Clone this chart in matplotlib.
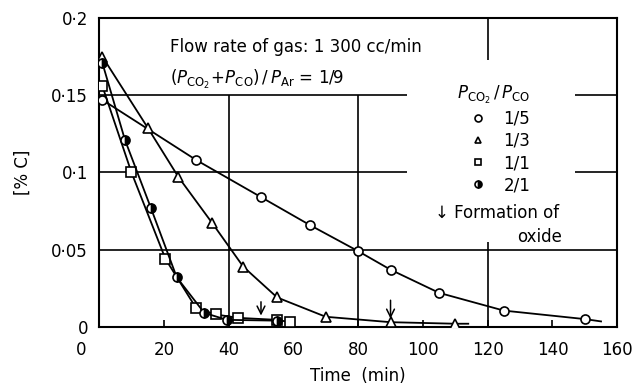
import numpy as np
import matplotlib.pyplot as plt
from matplotlib.lines import Line2D
from matplotlib.transforms import ScaledTranslation

# carbon content [% C] vs time (min)
t_15 = [1, 30, 50, 65, 80, 90, 105, 125, 150]
c_15 = [0.147, 0.108, 0.084, 0.066, 0.049, 0.037, 0.022, 0.0105, 0.005]
end_15 = (155, 0.0035)

t_13 = [1, 15, 24.5, 35, 44.5, 55, 70, 90, 110]
c_13 = [0.175, 0.129, 0.097, 0.067, 0.039, 0.019, 0.0065, 0.003, 0.002]
end_13 = (114, 0.002)

t_11 = [1, 10, 20.5, 30, 36, 43, 55, 59]
c_11 = [0.156, 0.100, 0.044, 0.012, 0.008, 0.0058, 0.0045, 0.003]

t_21 = [1, 8, 16, 24, 32.5, 39.5, 55]
c_21 = [0.171, 0.121, 0.077, 0.032, 0.009, 0.0045, 0.004]

# oxide formation arrows: (time, top, tip)
arrows = [(50, 0.018, 0.0055), (90, 0.019, 0.0035)]

xticks = [0, 20, 40, 60, 80, 100, 120, 140, 160]
yticks = [0, 0.05, 0.1, 0.15, 0.2]
ytick_labels = ["0", "0·05", "0·1", "0·15", "0·2"]

plt.rcParams['font.family'] = 'DejaVu Sans'
fig = plt.figure(figsize=(6.35, 3.9), dpi=100)
ax = fig.add_axes([0.156, 0.162, 0.816, 0.792])

# partial grid lines (broken around the text like the original)
gkw = dict(color="black", lw=1.2, zorder=1)
ax.hlines(0.05, 0, 160, **gkw)
ax.hlines([0.15, 0.1], 0, 95, **gkw)
ax.hlines([0.15, 0.1], 147, 160, **gkw)
ax.vlines([40, 80], 0, 0.15, **gkw)
ax.vlines(120, 0, 0.055, **gkw)
ax.vlines(120, 0.173, 0.2, **gkw)

mk = dict(color="black", ms=6.5, mew=1.2, mfc="white", zorder=3)
ax.plot(t_15 + [end_15[0]], c_15 + [end_15[1]], "-", color="black", lw=1.3)
ax.plot(t_15, c_15, "o", **mk)
ax.plot(t_13 + [end_13[0]], c_13 + [end_13[1]], "-", color="black", lw=1.3)
ax.plot(t_13, c_13, "^", **mk)
ax.plot(t_11, c_11, "-s", lw=1.3, **mk)
ax.plot(t_21, c_21, "-o", color="black", lw=1.3, ms=6.5, mew=1.2,
        mfc="black", mfcalt="white", fillstyle="right", zorder=3)

for x, y0, y1 in arrows:
    ax.annotate("", xy=(x, y1), xytext=(x, y0),
                arrowprops=dict(arrowstyle="->", color="black", lw=1.1,
                                mutation_scale=14))

ax.set_xlim(0, 160)
ax.set_ylim(0, 0.2)
ax.set_xticks(xticks)
ax.set_yticks(yticks)
ax.set_yticklabels(ytick_labels)
ax.tick_params(axis="x", direction="in", length=5, width=1.2, labelsize=12, pad=10)
ax.tick_params(axis="y", length=0, labelsize=12, pad=8)
for s in ax.spines.values():
    s.set_linewidth(1.5)
lab0 = ax.get_xticklabels()[0]
lab0.set_transform(lab0.get_transform() + ScaledTranslation(-0.18, 0, fig.dpi_scale_trans))

ax.set_xlabel("Time  (min)", fontsize=12, labelpad=6)
ax.set_ylabel("[% C]", fontsize=12, labelpad=14)

ax.text(0.137, 0.905, "Flow rate of gas: 1 300 cc/min", transform=ax.transAxes,
        fontsize=12, va="center")
ax.text(0.137, 0.80, r"$(P_{\mathrm{CO_2}}\!+\!P_{\mathrm{CO}})\,/\,P_{\mathrm{Ar}}$ = 1/9",
        transform=ax.transAxes, fontsize=12, va="center")

handles = [
    Line2D([], [], ls="none", marker="o", color="black", mfc="white", ms=5, mew=1.2),
    Line2D([], [], ls="none", marker="^", color="black", mfc="white", ms=5, mew=1.2),
    Line2D([], [], ls="none", marker="s", color="black", mfc="white", ms=5, mew=1.2),
    Line2D([], [], ls="none", marker="o", color="black", mfc="black",
           mfcalt="white", fillstyle="right", ms=5, mew=1.2),
]
leg = ax.legend(handles, ["1/5", "1/3", "1/1", "2/1"],
                title=r"$P_{\mathrm{CO_2}}\,/\,P_{\mathrm{CO}}$",
                loc="upper left", bbox_to_anchor=(0.675, 0.815), frameon=False,
                fontsize=12, title_fontsize=12, handlelength=1.0,
                handletextpad=1.0, labelspacing=0.25, borderpad=0)
leg._legend_box.align = "right"
ax.text(0.649, 0.37, "↓ Formation of", transform=ax.transAxes, fontsize=12, va="center")
ax.text(0.807, 0.29, "oxide", transform=ax.transAxes, fontsize=12, va="center")

fig.savefig("out.png", dpi=100)
